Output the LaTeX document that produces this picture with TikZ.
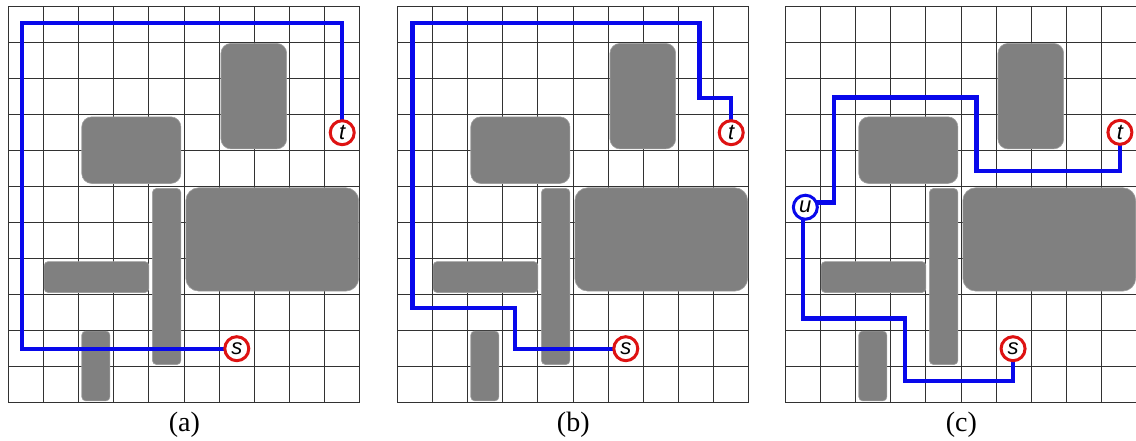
\documentclass[tikz,border=0pt]{standalone}
\usepackage{fontspec}
\setmainfont{Liberation Serif}
\newfontfamily\labsans{Liberation Sans}
\definecolor{obsgray}{RGB}{128,128,128}
\definecolor{routeblue}{RGB}{8,8,235}
\definecolor{ringred}{RGB}{222,18,18}
\definecolor{gridcol}{RGB}{50,50,50}
\tikzset{
  gridline/.style={draw=gridcol, line width=0.9pt},
  obst/.style={fill=obsgray, draw=obsgray!75!white, line width=0.6pt},
  route/.style={draw=routeblue, line width=4.2pt},
  endpt/.style={circle, draw=ringred, line width=3pt, fill=white, minimum size=24pt, inner sep=0pt, font=\labsans\itshape\fontsize{22}{22}\selectfont},
  midpt/.style={endpt, draw=routeblue},
  caption/.style={font=\fontsize{28}{30}\selectfont, inner sep=0pt},
  board/.style={x=35.15pt, y=-36pt}
}
\newcommand{\drawboard}{%
  \foreach \i in {0,...,10} \draw[gridline] (\i,0) -- (\i,11);
  \foreach \j in {0,...,11} \draw[gridline] (0,\j) -- (10,\j);
  \path[obst, rounded corners=10pt] (6.05,1.02) rectangle (7.92,3.95);
  \path[obst, rounded corners=10pt] (2.09,3.06) rectangle (4.91,4.91);
  \path[obst, rounded corners=4pt] (4.10,5.05) rectangle (4.91,9.94);
  \path[obst, rounded corners=13pt] (5.05,5.03) rectangle (9.97,7.90);
  \path[obst, rounded corners=4pt] (1.02,7.08) rectangle (4.00,7.94);
  \path[obst, rounded corners=4pt] (2.09,9.01) rectangle (2.89,10.95);
}
\begin{document}
\begin{tikzpicture}[x=1pt, y=-1pt]
  \useasboundingbox (0,0) rectangle (1136,441);
  % panel (a)
  \begin{scope}[shift={(8.3pt,-6.7pt)}, board]
    \drawboard
    \coordinate (sa) at (6.5,9.5);
    \coordinate (ta) at (9.5,3.5);
    \draw[route] (sa) -| (0.4,0.45) -| (ta);
    \node[endpt] (nsa) at (sa) {s};
    \node[endpt] (nta) at (ta) {t};
  \end{scope}
  \node[caption] (capa) at (184.3,425) {(a)};
  % panel (b)
  \begin{scope}[shift={(397.3pt,-6.7pt)}, board]
    \drawboard
    \coordinate (sb) at (6.5,9.5);
    \coordinate (tb) at (9.5,3.5);
    \draw[route] (sb) -| (3.35,8.38) -| (0.43,0.46) -| (8.6,2.53) -| (tb);
    \node[endpt] (nsb) at (sb) {s};
    \node[endpt] (ntb) at (tb) {t};
  \end{scope}
  \node[caption] (capb) at (573.3,425) {(b)};
  % panel (c)
  \begin{scope}[shift={(785.3pt,-6.7pt)}, board]
    \drawboard
    \coordinate (sc) at (6.48,9.5);
    \coordinate (tc) at (9.52,3.49);
    \coordinate (uc) at (0.57,5.57);
    \coordinate (ucr) at (0.57,5.44);
    \coordinate (ucd) at (0.50,5.57);
    \draw[route] (ucr) -| (1.39,2.52) -| (5.44,4.56) -| (tc);
    \draw[route] (sc) |- (3.41,10.40) -- (3.41,8.66) -| (ucd);
    \node[endpt] (nsc) at (sc) {s};
    \node[endpt] (ntc) at (tc) {t};
    \node[midpt] (nuc) at (uc) {u};
  \end{scope}
  \node[caption] (capc) at (961.3,425) {(c)};
\end{tikzpicture}
\end{document}
